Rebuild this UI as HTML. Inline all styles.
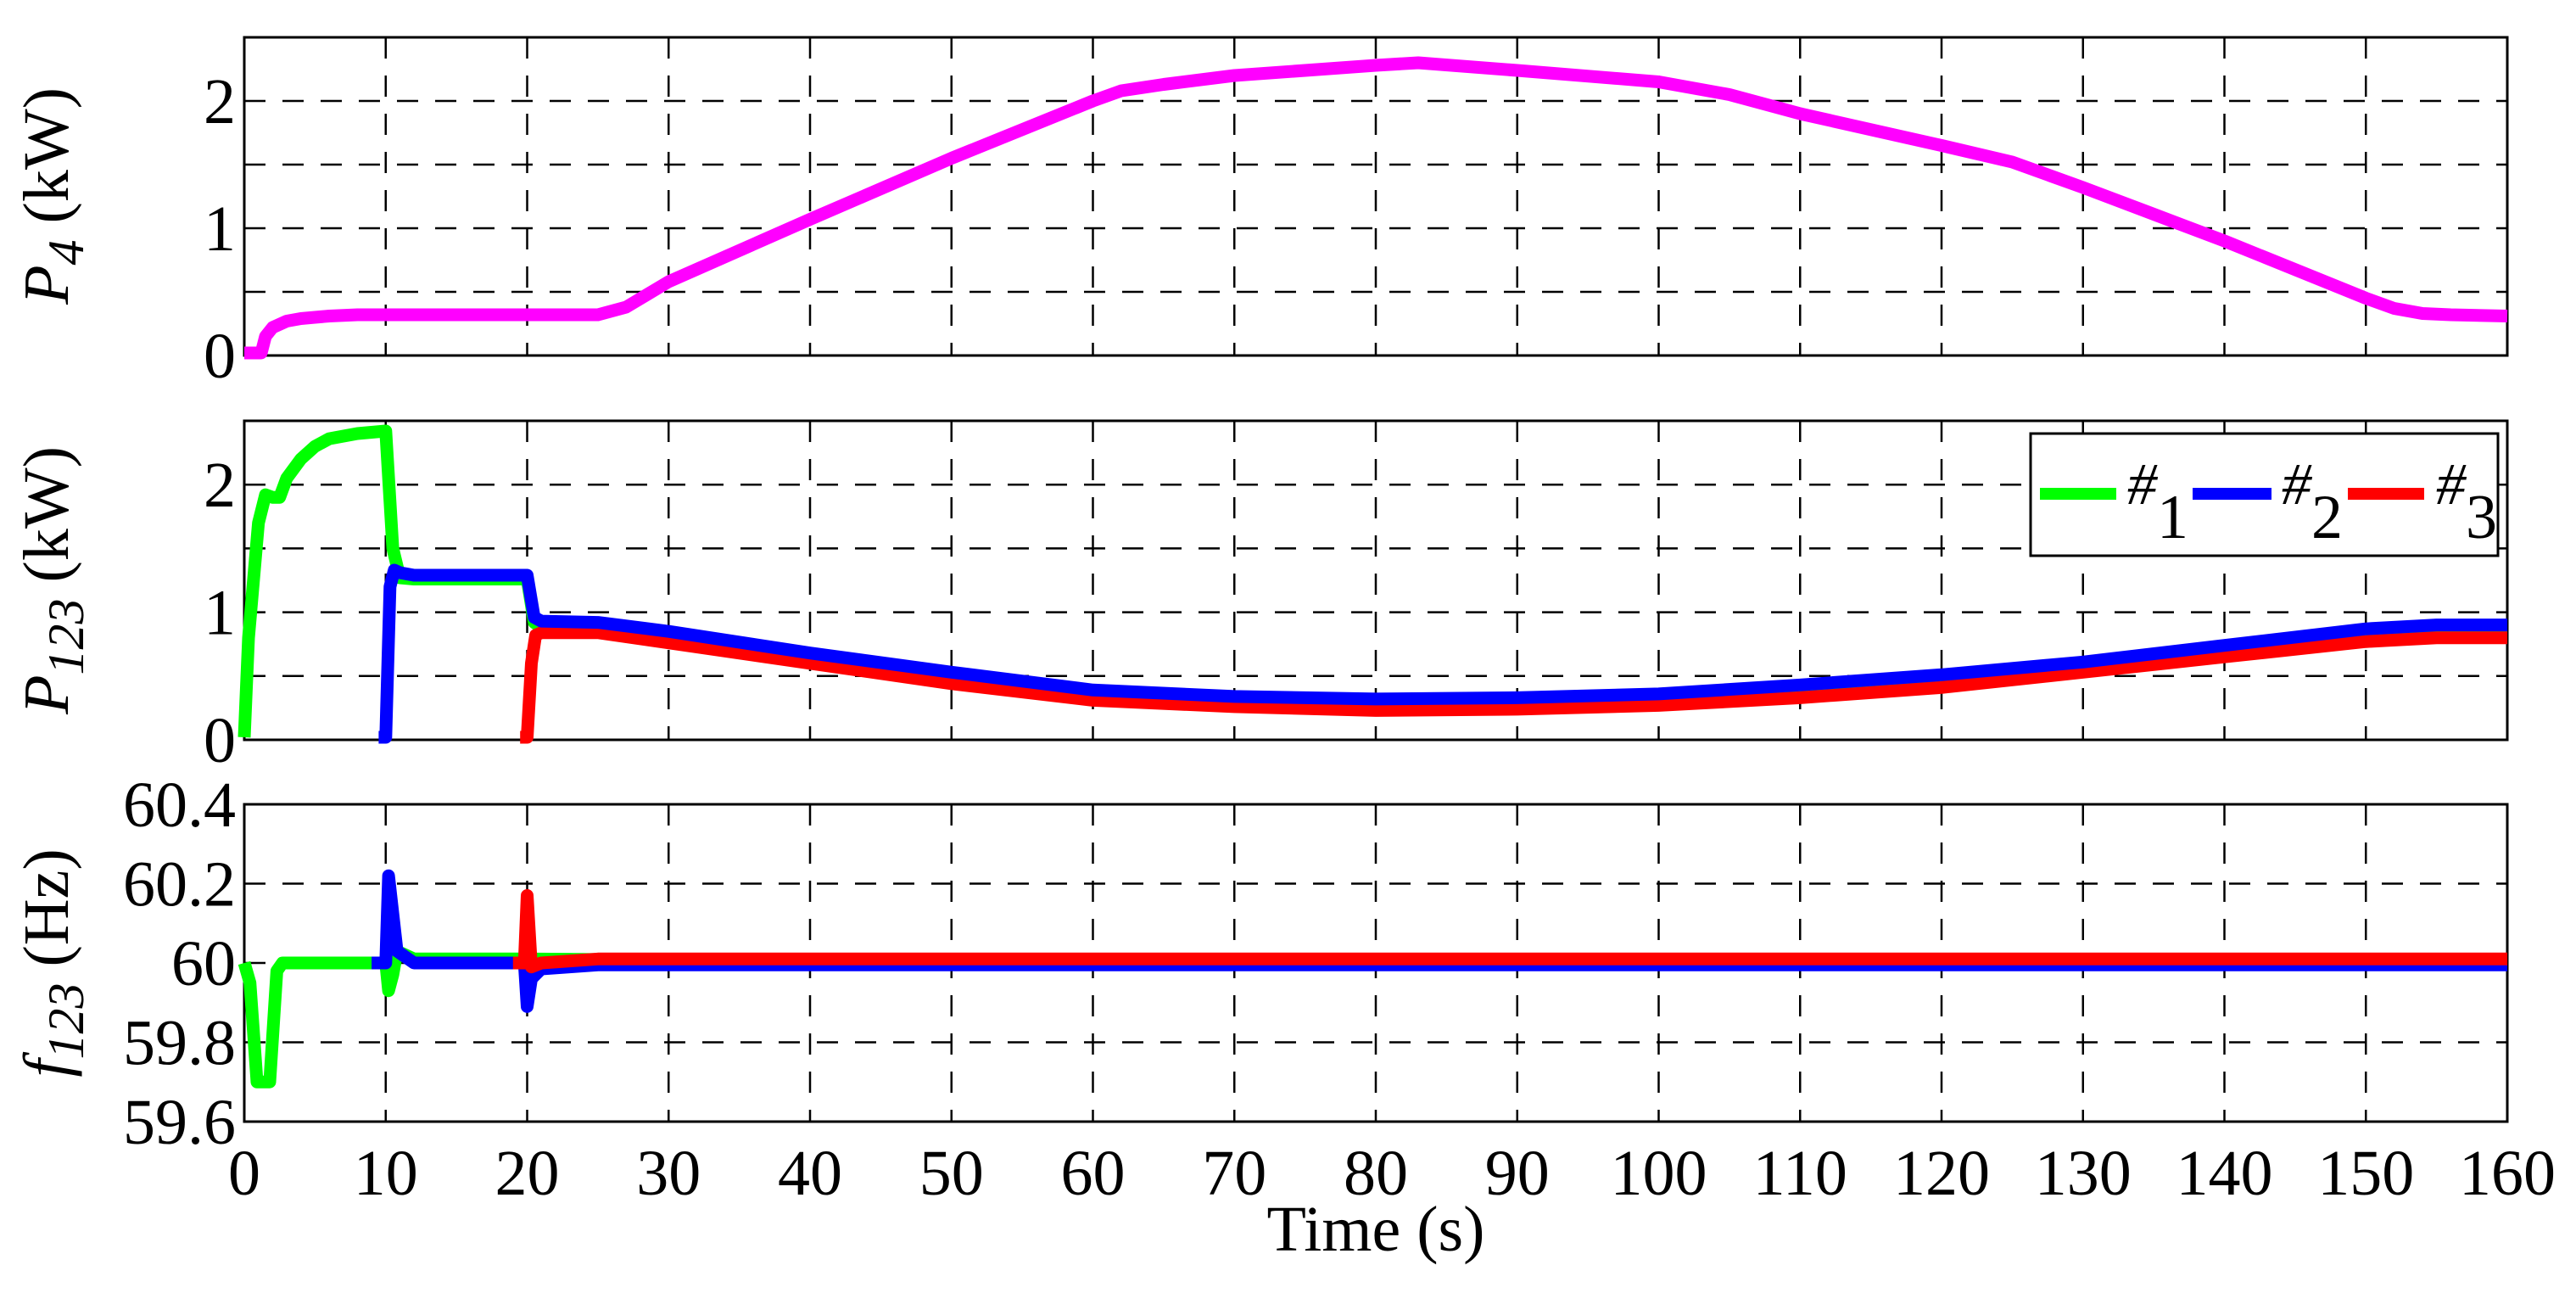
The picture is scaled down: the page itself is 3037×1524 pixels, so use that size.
<!DOCTYPE html>
<html><head><meta charset="utf-8"><style>
html,body{margin:0;padding:0;background:#fff}
svg{display:block}
text{font-family:"Liberation Serif",serif;fill:#000}
</style></head><body>
<svg id="chart" width="3037" height="1524" viewBox="0 0 3037 1524" xmlns="http://www.w3.org/2000/svg"></svg>
<script>
const xTicks=[0,10,20,30,40,50,60,70,80,90,100,110,120,130,140,150,160];
const p4T=[0,1.2,1.5,2,3,4,6,8,25,27,30,40,50,60,62,65,70,80,83,90,100,105,110,120,125,130,140,150,152,154,156,160];
const p4V=[0.02,0.02,0.15,0.22,0.27,0.29,0.31,0.32,0.32,0.38,0.58,1.07,1.55,2.0,2.08,2.13,2.2,2.28,2.3,2.24,2.15,2.05,1.9,1.65,1.52,1.32,0.9,0.45,0.37,0.33,0.32,0.31];
const g1T=[0,0.3,1,1.5,2,2.5,3,4,5,6,8,10,10.5,11,12,20,20.5,21,25,30,40,50,60,70,80,90,100,110,120,130,140,150,155,160];
const g1V=[0.02,0.8,1.7,1.92,1.9,1.9,2.05,2.2,2.3,2.36,2.4,2.42,1.5,1.27,1.26,1.26,0.92,0.88,0.86,0.79,0.63,0.48,0.34,0.29,0.27,0.28,0.31,0.38,0.46,0.58,0.71,0.82,0.85,0.85];
const b2T=[9.5,10,10.3,10.6,11,12,20,20.5,21,25,30,40,50,60,70,80,90,100,110,120,130,140,150,155,160];
const b2V=[0.02,0.02,1.2,1.33,1.31,1.29,1.29,0.96,0.93,0.92,0.85,0.68,0.53,0.39,0.34,0.32,0.33,0.36,0.43,0.51,0.61,0.74,0.87,0.9,0.9];
const r3T=[19.5,20,20.3,20.6,21,25,30,40,50,60,70,80,90,100,110,120,130,140,150,155,160];
const r3V=[0.02,0.02,0.6,0.82,0.84,0.84,0.76,0.6,0.44,0.31,0.26,0.23,0.24,0.27,0.33,0.41,0.53,0.65,0.77,0.8,0.8];
const fgT=[0,0.4,0.9,1.8,2.3,2.7,10,10.2,10.5,10.8,12,20,40,160];
const fgV=[60.0,59.95,59.7,59.7,59.98,60.0,60.0,59.93,59.97,60.03,60.01,60.01,60.005,60.005];
const fbT=[9,10,10.2,10.8,12,19.8,20,20.3,21,25,160];
const fbV=[60.0,60.0,60.22,60.03,60.0,60.0,59.89,59.96,59.985,59.995,59.995];
const frT=[19,19.8,20,20.3,21,25,160];
const frV=[60.0,60.0,60.17,59.99,60.0,60.01,60.01];
const pTickLabels=["0","1","2"];
const fTickLabels=["59.6","59.8","60","60.2","60.4"];

const NS="http://www.w3.org/2000/svg";
const svg=document.getElementById('chart');
const L=288,R=2956;
const xS=t=>L+(t/160)*(R-L);
function mk(tag,attrs,parent){const e=document.createElementNS(NS,tag);for(const k in attrs)e.setAttribute(k,attrs[k]);(parent||svg).appendChild(e);return e;}
const panels=[{top:44,bot:419,min:0,max:2.5,grid:[0.5,1,1.5,2],ticks:[0,1,2],labels:pTickLabels},
{top:496,bot:872,min:0,max:2.5,grid:[0.5,1,1.5,2],ticks:[0,1,2],labels:pTickLabels},
{top:948,bot:1322,min:59.6,max:60.4,grid:[59.8,60,60.2],ticks:[59.6,59.8,60,60.2,60.4],labels:fTickLabels}];
function yS(p,v){return p.bot-(v-p.min)/(p.max-p.min)*(p.bot-p.top);}
panels.forEach((p,i)=>{
 const g=mk('g',{});
 
 
 xTicks.forEach(t=>{if(t>0&&t<160){const l=mk('line',{x1:xS(t),x2:xS(t),y1:p.top,y2:p.bot,stroke:'#000','stroke-width':2.5,'stroke-dasharray':'25 20'},g);
 
 }});
 p.grid.forEach(v=>{const l=mk('line',{x1:L,x2:R,y1:yS(p,v),y2:yS(p,v),stroke:'#000','stroke-width':2.5,'stroke-dasharray':'25 20'},g);
 
 });
 p.ticks.forEach((v,k)=>{const tx=mk('text',{x:278,y:yS(p,v)+26,'font-size':76,'text-anchor':'end'},g);tx.textContent=p.labels[k];
 
 });
 const box=mk('rect',{x:L,y:p.top,width:R-L,height:p.bot-p.top,fill:'none',stroke:'#000','stroke-width':3},g);
 
 
});
xTicks.forEach(t=>{const tx=mk('text',{x:xS(t),y:1408,'font-size':76,'text-anchor':'middle'});tx.textContent=String(t);
 
 });
function series(p,T,V,color,name){
 const d=T.map((t,k)=>(k?'L':'M')+xS(t).toFixed(1)+' '+yS(p,V[k]).toFixed(1)).join(' ');
 const e=mk('path',{d:d,fill:'none',stroke:color,'stroke-width':15,'stroke-linejoin':'round','stroke-linecap':'butt'});
 
 
}
series(panels[0],p4T,p4V,'#ff00ff','p4-line');
series(panels[1],g1T,g1V,'#00ff00','p1-line');
series(panels[1],r3T,r3V,'#ff0000','p3-line');
series(panels[1],b2T,b2V,'#0000ff','p2-line');
series(panels[2],fgT,fgV,'#00ff00','f1-line');
series(panels[2],fbT,fbV,'#0000ff','f2-line');
series(panels[2],frT,frV,'#ff0000','f3-line');
</script>
<svg width="3037" height="1524" style="position:absolute;left:0;top:0" xmlns="http://www.w3.org/2000/svg">
<g>
<rect x="2394" y="511" width="551" height="144" fill="#fff" stroke="#000" stroke-width="3"/>
<line x1="2405" x2="2495" y1="582" y2="582" stroke="#00ff00" stroke-width="14"/>
<text x="2508" y="594" font-size="70" font-style="italic">#<tspan dy="40" font-style="normal" font-size="74">1</tspan></text>
<line x1="2585" x2="2678" y1="582" y2="582" stroke="#0000ff" stroke-width="14"/>
<text x="2690" y="594" font-size="70" font-style="italic">#<tspan dy="40" font-style="normal" font-size="74">2</tspan></text>
<line x1="2768" x2="2858" y1="582" y2="582" stroke="#ff0000" stroke-width="14"/>
<text x="2872" y="594" font-size="70" font-style="italic">#<tspan dy="40" font-style="normal" font-size="74">3</tspan></text>
</g>
<text x="1622" y="1474" font-size="76" text-anchor="middle">Time (s)</text>
<text transform="translate(80,231) rotate(-90)" font-size="76" text-anchor="middle"><tspan font-style="italic">P</tspan><tspan font-style="italic" font-size="60" dy="18">4</tspan><tspan dy="-18"> (kW)</tspan></text>
<text transform="translate(80,684) rotate(-90)" font-size="76" text-anchor="middle"><tspan font-style="italic">P</tspan><tspan font-style="italic" font-size="60" dy="18">123</tspan><tspan dy="-18"> (kW)</tspan></text>
<text transform="translate(80,1135) rotate(-90)" font-size="76" text-anchor="middle"><tspan font-style="italic">f</tspan><tspan font-style="italic" font-size="60" dy="18">123</tspan><tspan dy="-18"> (Hz)</tspan></text>
</svg>
</body></html>
